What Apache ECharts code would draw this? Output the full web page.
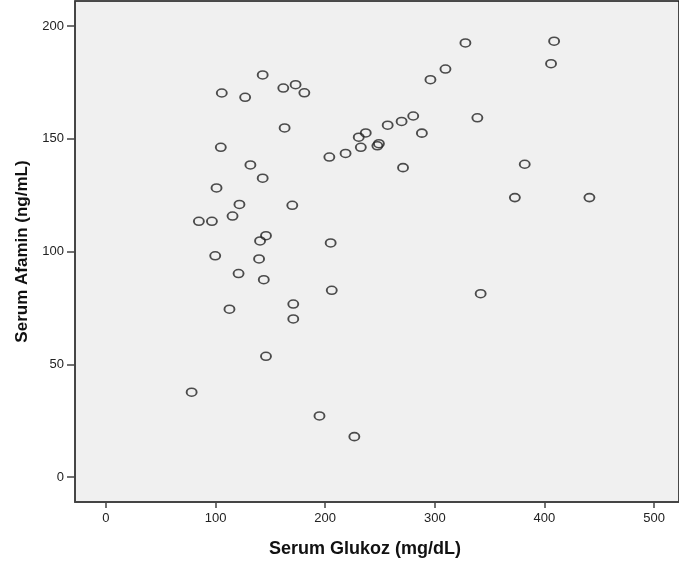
<!DOCTYPE html>
<html>
<head>
<meta charset="utf-8">
<script src="https://cdn.jsdelivr.net/npm/echarts@6/dist/echarts.min.js"></script>
<style>
    html, body {margin: 0; padding: 0; background: #fff;}
    #chart {width: 679px; height: 567px;}
</style>
</head>
<body>
<div id="chart"></div>
<script>
    // Serum Glukoz (mg/dL)
    const glukoz = [
        105.7, 143, 127, 161.8, 173, 181, 163, 104.8, 131.8, 143,
        100.9, 121.8, 170, 115.5, 84.8, 96.7, 146, 140.6, 205, 203.8,
        218.6, 232.5, 230.6, 237, 247.6, 249, 257, 269.7, 280.3, 288.2,
        271, 296, 309.7, 327.9, 408.8, 406, 338.8, 382, 373, 441,
        99.7, 139.7, 121, 144, 206, 112.7, 170.9, 170.9, 146, 78.2,
        194.8, 226.6, 341.8
    ];
    // Serum Afamin (ng/mL)
    const afamin = [
        170.3, 178.3, 168.4, 172.5, 174, 170.4, 154.8, 146.2, 138.4, 132.5,
        128.2, 120.9, 120.5, 115.7, 113.4, 113.4, 107, 104.7, 103.8, 141.9,
        143.5, 146.2, 150.7, 152.6, 146.9, 147.8, 156, 157.7, 160.1, 152.5,
        137.2, 176.2, 180.9, 192.5, 193.3, 183.3, 159.3, 138.7, 123.9, 123.9,
        98.1, 96.7, 90.2, 87.5, 82.8, 74.4, 76.7, 70.1, 53.5, 37.6,
        27.1, 17.9, 81.3
    ];
    const xTicks = [0, 100, 200, 300, 400, 500];
    const yTicks = [0, 50, 100, 150, 200];

    const points = glukoz.map((g, i) => [g, afamin[i]]);

    const myChart = echarts.init(document.getElementById('chart'));

    const option = {
        animation: false,
        backgroundColor: '#fff',
        grid: {
            left: 75,
            right: -2,
            top: 1,
            bottom: 65,
            show: true,
            backgroundColor: '#f0f0f0',
            borderColor: '#111',
            borderWidth: 1.5
        },
        xAxis: {
            type: 'value',
            min: -28.18,
            max: 522.7,
            name: 'Serum Glukoz (mg/dL)',
            nameLocation: 'middle',
            nameGap: 38,
            nameTextStyle: {
                fontFamily: 'Liberation Sans',
                fontWeight: 'bold',
                fontSize: 18,
                color: '#111',
                padding: [0, 24, 0, 0]
            },
            axisLine: {show: true, onZero: false, lineStyle: {color: '#444', width: 1.5}},
            axisTick: {show: true, length: 6, customValues: xTicks, lineStyle: {color: '#444', width: 1.5}},
            axisLabel: {
                customValues: xTicks,
                margin: 10,
                fontFamily: 'Liberation Sans',
                fontSize: 13,
                color: '#222'
            },
            splitLine: {show: false}
        },
        yAxis: {
            type: 'value',
            min: -11.09,
            max: 211.1,
            name: 'Serum Afamin (ng/mL)',
            nameLocation: 'middle',
            nameGap: 44,
            nameTextStyle: {
                fontFamily: 'Liberation Sans',
                fontWeight: 'bold',
                fontSize: 17,
                color: '#111'
            },
            axisLine: {show: true, onZero: false, lineStyle: {color: '#444', width: 1.5}},
            axisTick: {show: true, length: 8, customValues: yTicks, lineStyle: {color: '#444', width: 1.5}},
            axisLabel: {
                customValues: yTicks,
                margin: 11,
                fontFamily: 'Liberation Sans',
                fontSize: 13,
                color: '#222'
            },
            splitLine: {show: false}
        },
        series: [{
            type: 'scatter',
            data: points,
            symbol: 'circle',
            symbolSize: [10, 8],
            itemStyle: {
                color: 'rgba(0,0,0,0)',
                borderColor: '#222',
                borderWidth: 1.7
            }
        }]
    };

    myChart.setOption(option);
</script>
</body>
</html>
